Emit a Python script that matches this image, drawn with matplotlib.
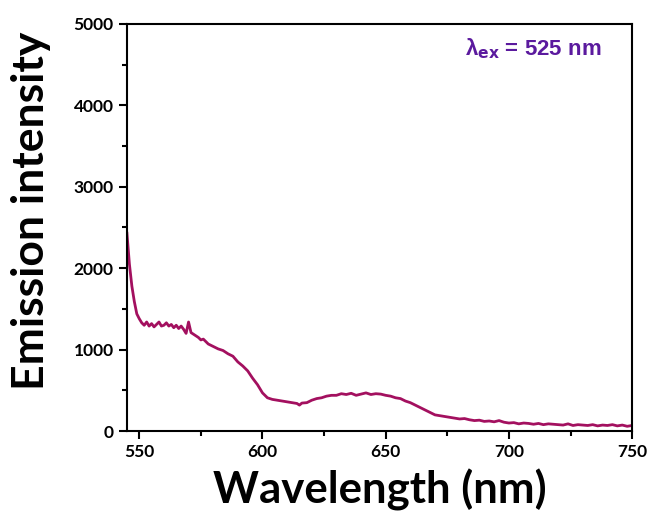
import numpy as np
import matplotlib
matplotlib.use("Agg")
import matplotlib.pyplot as plt
from matplotlib.ticker import MultipleLocator

# emission spectrum (nm, counts)
wavelength = [545, 546, 547, 548, 549, 550, 551, 552, 553, 554, 555, 556, 557, 558, 559, 560,
              561, 562, 563, 564, 565, 566, 567, 568, 569, 570, 571, 572, 573, 574, 575, 576,
              578, 580, 582, 584, 586, 588, 590, 592, 594, 596, 598, 600, 602, 604, 606, 608,
              610, 612, 614, 615, 616, 618, 620, 622, 624, 626, 628, 630, 632, 634, 636, 638,
              640, 642, 644, 646, 648, 650, 652, 654, 656, 658, 660, 662, 664, 666, 668, 670,
              672, 674, 676, 678, 680, 682, 684, 686, 688, 690, 692, 694, 696, 698, 700, 702,
              704, 706, 708, 710, 712, 714, 716, 718, 720, 722, 724, 726, 728, 730, 732, 734,
              736, 738, 740, 742, 744, 746, 748, 750]
intensity = [2430, 2050, 1780, 1590, 1440, 1380, 1330, 1300, 1340, 1290, 1320, 1280, 1310, 1340, 1290,
             1300, 1330, 1290, 1310, 1270, 1300, 1260, 1290, 1250, 1200, 1340, 1210, 1190, 1170,
             1150, 1120, 1130, 1070, 1040, 1010, 990, 950, 920, 850, 800, 740, 650, 570, 470,
             410, 390, 380, 370, 360, 350, 340, 320, 345, 350, 380, 400, 410, 430, 440, 440,
             460, 450, 465, 440, 455, 470, 450, 460, 455, 440, 430, 410, 400, 370, 350, 320,
             290, 260, 230, 200, 190, 180, 170, 160, 150, 155, 140, 130, 135, 120, 125, 115,
             130, 110, 100, 105, 90, 100, 95, 85, 95, 80, 90, 85, 80, 75, 90, 70, 80, 75, 70,
             80, 65, 75, 70, 80, 65, 75, 60, 70]

fig = plt.figure(figsize=(6.51, 5.17), dpi=100)
ax = fig.add_axes([0.195, 0.166, 0.776, 0.788])

ax.plot(wavelength, intensity, color="#A3105F", linewidth=2.0)

ax.set_xlim(545, 750)
ax.set_ylim(0, 5000)
ax.xaxis.set_major_locator(MultipleLocator(50))
ax.xaxis.set_minor_locator(MultipleLocator(25))
ax.yaxis.set_major_locator(MultipleLocator(1000))
ax.yaxis.set_minor_locator(MultipleLocator(500))
ax.tick_params(which="major", direction="out", length=6, width=1.5, labelsize=12.5)
ax.tick_params(which="minor", direction="out", length=3.5, width=1.5)
for s in ax.spines.values():
    s.set_linewidth(1.5)
for lab in ax.get_xticklabels() + ax.get_yticklabels():
    lab.set_fontfamily("Lato")
    lab.set_fontweight("bold")

ax.set_xlabel("Wavelength (nm)", fontsize=31.5, fontweight="bold", family="Lato", labelpad=6)
ax.set_ylabel("Emission intensity", fontsize=32, fontweight="bold", family="Lato")
ax.yaxis.set_label_coords(-0.15, 0.54)

ax.text(0.94, 0.94, "λ$_{\\mathbf{ex}}$ = 525 nm", transform=ax.transAxes,
        ha="right", va="center", fontsize=16, fontweight="bold",
        family="Liberation Sans", color="#5B1A9E")

fig.savefig("out.png", dpi=100)
